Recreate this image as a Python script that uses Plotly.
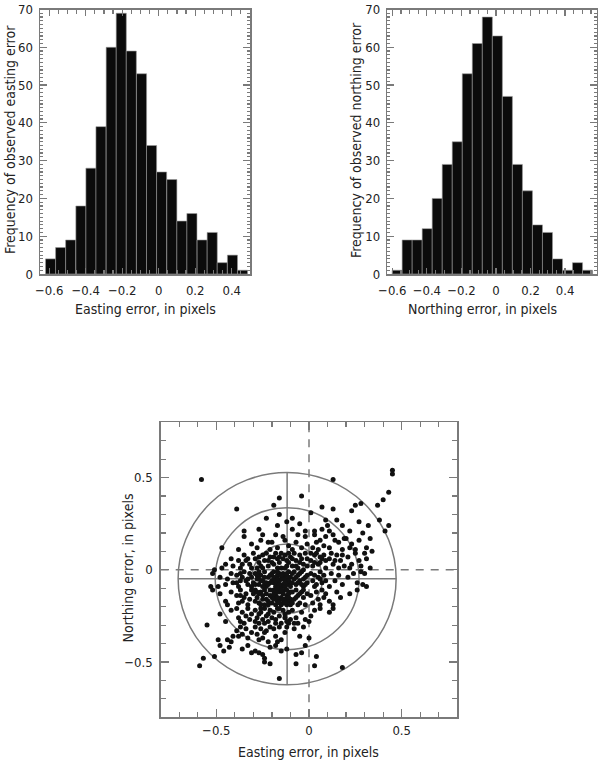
import plotly.graph_objects as go

# ---------------- data ----------------
EASTING_BIN_CENTERS = [-0.592, -0.537, -0.482, -0.426, -0.371, -0.316, -0.260, -0.205, -0.150, -0.094,
                       -0.039, 0.016, 0.072, 0.127, 0.182, 0.238, 0.293, 0.348, 0.404, 0.459]
EASTING_COUNTS = [4, 7, 9, 18, 28, 39, 60, 69, 59, 53, 34, 27, 25, 14, 16, 9, 11, 3, 5, 1]
EASTING_BIN_WIDTH = 0.0553

NORTHING_BIN_CENTERS = [-0.572, -0.514, -0.456, -0.398, -0.340, -0.282, -0.224, -0.166, -0.108, -0.050,
                        0.008, 0.066, 0.124, 0.182, 0.240, 0.298, 0.356, 0.414, 0.472, 0.530]
NORTHING_COUNTS = [1, 9, 9, 12, 20, 29, 35, 53, 61, 68, 63, 47, 29, 22, 13, 11, 4, 1, 3, 1]
NORTHING_BIN_WIDTH = 0.0582

HIST_Y_TICKS = [0, 10, 20, 30, 40, 50, 60, 70]
HIST_X_TICKS = [-0.6, -0.4, -0.2, 0, 0.2, 0.4]
SCATTER_TICKS = [-0.5, 0, 0.5]

# observed (easting, northing) errors
SCATTER_POINTS = [
    # y 0.4 .. 0.6
    (0.45, 0.54), (0.45, 0.52), (-0.58, 0.49), (0.13, 0.49), (0.43, 0.42),
    # y 0.3 .. 0.4
    (-0.39, 0.33), (-0.16, 0.39), (-0.19, 0.35), (-0.04, 0.40), (0.01, 0.31), (0.07, 0.34),
    (0.13, 0.33), (0.23, 0.32), (0.25, 0.35), (0.28, 0.36), (0.37, 0.35), (0.40, 0.38),
    # y 0.2 .. 0.3
    (-0.35, 0.21), (-0.23, 0.28), (-0.27, 0.22), (-0.16, 0.30), (-0.17, 0.24), (-0.12, 0.26),
    (-0.09, 0.28), (-0.05, 0.25), (-0.09, 0.22), (-0.02, 0.21), (0.03, 0.21), (0.09, 0.27),
    (0.10, 0.24), (0.07, 0.22), (0.15, 0.27), (0.11, 0.21), (0.18, 0.24), (0.22, 0.21),
    (0.27, 0.26), (0.38, 0.27), (0.32, 0.24), (0.43, 0.24), (0.41, 0.21),
    # y 0.1 .. 0.2
    (-0.47, 0.12), (-0.35, 0.18), (-0.38, 0.11), (-0.31, 0.14), (-0.25, 0.19), (-0.22, 0.15),
    (-0.28, 0.12), (-0.21, 0.11), (-0.26, 0.16), (-0.14, 0.18), (-0.20, 0.15), (-0.11, 0.13),
    (-0.17, 0.12), (-0.13, 0.16), (-0.18, 0.19), (-0.02, 0.18), (-0.07, 0.15), (-0.04, 0.12),
    (-0.09, 0.11), (-0.01, 0.14), (-0.06, 0.19), (0.03, 0.19), (0.06, 0.16), (0.02, 0.12),
    (0.08, 0.13), (0.05, 0.11), (0.09, 0.18), (0.04, 0.15), (0.13, 0.19), (0.16, 0.15),
    (0.11, 0.12), (0.18, 0.11), (0.14, 0.16), (0.19, 0.17), (0.20, 0.17), (0.23, 0.14),
    (0.25, 0.11), (0.22, 0.12), (0.27, 0.16), (0.29, 0.20), (0.33, 0.17), (0.31, 0.12), (0.34, 0.10),
    # y 0.0 .. 0.1
    (-0.51, 0.00), (-0.47, 0.01), (-0.42, 0.06), (-0.45, 0.03), (-0.41, 0.02),
    (-0.38, 0.05), (-0.35, 0.08), (-0.32, 0.03), (-0.37, 0.01), (-0.33, 0.06), (-0.30, 0.09),
    (-0.36, 0.03), (-0.31, 0.01), (-0.34, 0.05),
    (-0.29, 0.06), (-0.27, 0.04), (-0.25, 0.08), (-0.22, 0.02), (-0.28, 0.01), (-0.24, 0.05),
    (-0.21, 0.07), (-0.26, 0.02), (-0.23, 0.09), (-0.20, 0.04), (-0.27, 0.07), (-0.25, 0.01), (-0.22, 0.05),
    (-0.19, 0.03), (-0.17, 0.06), (-0.15, 0.01), (-0.13, 0.08), (-0.11, 0.04), (-0.18, 0.09),
    (-0.16, 0.04), (-0.12, 0.02), (-0.14, 0.06), (-0.10, 0.07), (-0.19, 0.07), (-0.17, 0.01),
    (-0.15, 0.09), (-0.12, 0.05), (-0.13, 0.01), (-0.16, 0.07), (-0.11, 0.09),
    (-0.09, 0.02), (-0.07, 0.05), (-0.05, 0.08), (-0.03, 0.03), (-0.01, 0.06), (-0.08, 0.09),
    (-0.06, 0.01), (-0.04, 0.06), (-0.02, 0.09), (-0.09, 0.06), (-0.07, 0.02), (-0.03, 0.00),
    (-0.05, 0.04), (-0.01, 0.02),
    (0.01, 0.05), (0.03, 0.08), (0.05, 0.03), (0.07, 0.06), (0.09, 0.01), (0.02, 0.02),
    (0.04, 0.09), (0.06, 0.04), (0.08, 0.08), (0.01, 0.09), (0.09, 0.05), (0.03, 0.04), (0.06, 0.07),
    (0.11, 0.06), (0.13, 0.03), (0.15, 0.08), (0.17, 0.05), (0.19, 0.02), (0.12, 0.09),
    (0.16, 0.01), (0.18, 0.08), (0.14, 0.05),
    (0.21, 0.07), (0.23, 0.03), (0.25, 0.09), (0.27, 0.05), (0.22, 0.01), (0.28, 0.02),
    (0.31, 0.06), (0.33, 0.01), (0.30, 0.09),
    # y -0.1 .. 0.0
    (-0.52, -0.02), (-0.53, -0.09),
    (-0.48, -0.04), (-0.45, -0.08), (-0.42, -0.02), (-0.49, -0.09), (-0.44, -0.05), (-0.41, -0.07),
    (-0.39, -0.03), (-0.37, -0.06), (-0.35, -0.01), (-0.33, -0.08), (-0.31, -0.04), (-0.38, -0.09),
    (-0.36, -0.04), (-0.34, -0.06), (-0.32, -0.02), (-0.30, -0.07), (-0.37, -0.02), (-0.33, -0.05),
    (-0.39, -0.07), (-0.31, -0.09),
    (-0.29, -0.02), (-0.28, -0.05), (-0.27, -0.08), (-0.26, -0.03), (-0.25, -0.06), (-0.24, -0.01),
    (-0.23, -0.09), (-0.22, -0.04), (-0.21, -0.07), (-0.20, -0.02), (-0.29, -0.08), (-0.27, -0.01),
    (-0.26, -0.06), (-0.24, -0.04), (-0.23, -0.07), (-0.21, -0.03), (-0.28, -0.03), (-0.25, -0.09),
    (-0.22, -0.08), (-0.20, -0.06), (-0.27, -0.05), (-0.24, -0.07),
    (-0.19, -0.01), (-0.18, -0.04), (-0.17, -0.07), (-0.16, -0.02), (-0.15, -0.05), (-0.14, -0.08),
    (-0.13, -0.03), (-0.12, -0.06), (-0.11, -0.01), (-0.10, -0.04), (-0.19, -0.07), (-0.18, -0.09),
    (-0.17, -0.03), (-0.16, -0.06), (-0.15, -0.09), (-0.14, -0.02), (-0.13, -0.05), (-0.12, -0.08),
    (-0.11, -0.04), (-0.10, -0.07), (-0.19, -0.04), (-0.17, -0.01), (-0.16, -0.08), (-0.14, -0.05),
    (-0.13, -0.09), (-0.12, -0.02), (-0.11, -0.06), (-0.18, -0.06), (-0.15, -0.03), (-0.13, -0.07),
    (-0.10, -0.09), (-0.17, -0.05),
    (-0.09, -0.02), (-0.08, -0.05), (-0.07, -0.08), (-0.06, -0.03), (-0.05, -0.06), (-0.04, -0.01),
    (-0.03, -0.09), (-0.02, -0.04), (-0.01, -0.07), (-0.09, -0.07), (-0.08, -0.01), (-0.06, -0.07),
    (-0.05, -0.02), (-0.03, -0.05), (-0.02, -0.08), (-0.07, -0.04), (-0.04, -0.08), (-0.01, -0.03),
    (0.01, -0.02), (0.02, -0.06), (0.03, -0.03), (0.04, -0.08), (0.05, -0.04), (0.06, -0.01),
    (0.07, -0.07), (0.08, -0.03), (0.09, -0.06), (0.03, -0.09), (0.06, -0.05),
    (0.12, -0.02), (0.14, -0.06), (0.16, -0.03), (0.18, -0.08), (0.11, -0.09),
    (0.21, -0.04), (0.24, -0.02), (0.26, -0.07), (0.28, -0.01), (0.29, -0.08),
    (0.31, -0.09), (0.30, -0.02),
    # y -0.2 .. -0.1
    (-0.52, -0.11),
    (-0.48, -0.13), (-0.45, -0.17), (-0.42, -0.12), (-0.44, -0.19),
    (-0.39, -0.14), (-0.37, -0.11), (-0.36, -0.17), (-0.34, -0.13), (-0.33, -0.19), (-0.31, -0.11),
    (-0.38, -0.18), (-0.35, -0.15), (-0.32, -0.16), (-0.30, -0.13), (-0.37, -0.14),
    (-0.29, -0.11), (-0.28, -0.15), (-0.27, -0.18), (-0.26, -0.12), (-0.25, -0.16), (-0.24, -0.19),
    (-0.23, -0.13), (-0.22, -0.17), (-0.21, -0.11), (-0.20, -0.15), (-0.29, -0.17), (-0.27, -0.13),
    (-0.26, -0.19), (-0.24, -0.11), (-0.23, -0.16), (-0.21, -0.14), (-0.28, -0.12), (-0.25, -0.14),
    (-0.22, -0.19), (-0.20, -0.18),
    (-0.19, -0.11), (-0.18, -0.14), (-0.17, -0.17), (-0.16, -0.12), (-0.15, -0.15), (-0.14, -0.18),
    (-0.13, -0.11), (-0.12, -0.14), (-0.11, -0.17), (-0.10, -0.12), (-0.19, -0.16), (-0.18, -0.19),
    (-0.17, -0.12), (-0.16, -0.16), (-0.15, -0.19), (-0.14, -0.13), (-0.13, -0.16), (-0.12, -0.19),
    (-0.11, -0.13), (-0.10, -0.16), (-0.19, -0.13), (-0.17, -0.15), (-0.16, -0.18), (-0.15, -0.11),
    (-0.14, -0.16), (-0.12, -0.11), (-0.11, -0.15), (-0.18, -0.11), (-0.13, -0.18), (-0.10, -0.19),
    (-0.17, -0.10),
    (-0.09, -0.12), (-0.08, -0.16), (-0.07, -0.11), (-0.06, -0.14), (-0.05, -0.18), (-0.04, -0.12),
    (-0.03, -0.15), (-0.02, -0.19), (-0.01, -0.13), (-0.09, -0.18), (-0.07, -0.15), (-0.05, -0.13),
    (-0.03, -0.11), (-0.06, -0.19),
    (0.01, -0.14), (0.02, -0.18), (0.04, -0.12), (0.05, -0.16), (0.06, -0.19), (0.07, -0.11),
    (0.08, -0.15), (0.09, -0.13),
    (0.11, -0.17), (0.13, -0.19), (0.15, -0.12), (0.17, -0.15),
    (0.22, -0.13), (0.26, -0.11),
    # y -0.3 .. -0.2
    (-0.55, -0.30),
    (-0.48, -0.24), (-0.45, -0.28), (-0.42, -0.22),
    (-0.39, -0.21), (-0.38, -0.26), (-0.36, -0.23), (-0.35, -0.29), (-0.33, -0.21), (-0.32, -0.27),
    (-0.31, -0.24), (-0.37, -0.28), (-0.34, -0.25),
    (-0.29, -0.22), (-0.28, -0.26), (-0.27, -0.29), (-0.26, -0.23), (-0.25, -0.27), (-0.24, -0.21),
    (-0.23, -0.25), (-0.22, -0.28), (-0.21, -0.22), (-0.20, -0.26), (-0.29, -0.28), (-0.27, -0.24),
    (-0.24, -0.29), (-0.22, -0.24), (-0.26, -0.21),
    (-0.19, -0.23), (-0.18, -0.27), (-0.17, -0.21), (-0.16, -0.25), (-0.15, -0.29), (-0.14, -0.22),
    (-0.13, -0.26), (-0.12, -0.28), (-0.11, -0.23), (-0.10, -0.27), (-0.18, -0.29), (-0.16, -0.21),
    (-0.13, -0.24), (-0.11, -0.29),
    (-0.09, -0.22), (-0.07, -0.26), (-0.06, -0.29), (-0.04, -0.23), (-0.02, -0.27), (0.00, -0.28),
    (-0.08, -0.29),
    (0.03, -0.22), (0.06, -0.21), (0.01, -0.25),
    (0.13, -0.21), (0.11, -0.23),
    # y -0.4 .. -0.3
    (-0.49, -0.38), (-0.44, -0.38), (-0.42, -0.39), (-0.41, -0.36),
    (-0.39, -0.33), (-0.37, -0.31), (-0.36, -0.35), (-0.34, -0.32), (-0.33, -0.37), (-0.31, -0.34),
    (-0.38, -0.36),
    (-0.29, -0.31), (-0.28, -0.35), (-0.26, -0.32), (-0.25, -0.37), (-0.23, -0.33), (-0.22, -0.39),
    (-0.21, -0.31), (-0.27, -0.38), (-0.24, -0.34),
    (-0.19, -0.32), (-0.18, -0.36), (-0.16, -0.31), (-0.15, -0.38), (-0.13, -0.34), (-0.12, -0.31),
    (-0.17, -0.39),
    (-0.08, -0.32), (-0.05, -0.36), (-0.03, -0.31),
    (0.00, -0.37),
    # y -0.5 .. -0.4
    (-0.57, -0.48), (-0.51, -0.47),
    (-0.48, -0.41), (-0.46, -0.44), (-0.43, -0.42),
    (-0.36, -0.43), (-0.33, -0.41), (-0.31, -0.45),
    (-0.29, -0.44), (-0.27, -0.45), (-0.25, -0.46), (-0.24, -0.48), (-0.21, -0.42),
    (-0.18, -0.41), (-0.15, -0.44), (-0.12, -0.43),
    (-0.07, -0.46), (-0.04, -0.45), (-0.02, -0.41),
    (0.04, -0.47),
    # y -0.6 .. -0.5
    (-0.59, -0.52), (-0.24, -0.50), (-0.21, -0.51), (-0.16, -0.59), (-0.07, -0.51),
    (0.03, -0.52), (0.18, -0.53),
]

# error-circle overlay (centre and radii)
CIRCLE_CENTER = (-0.118, -0.048)
CIRCLE_RADII_X = [0.19, 0.388, 0.588]
CIRCLE_RADII_Y = [0.188, 0.385, 0.576]

easting = [p[0] for p in SCATTER_POINTS]
northing = [p[1] for p in SCATTER_POINTS]

# ---------------- figure ----------------
W, H = 602, 762
FONT = "Liberation Sans Narrow, DejaVu Sans Condensed, Arial Narrow, sans-serif"
AXC = "#7a7a7a"


def px(x):
    return x / W


def py(y):
    return 1 - y / H


fig = go.Figure()

fig.add_trace(go.Bar(x=EASTING_BIN_CENTERS, y=EASTING_COUNTS, width=EASTING_BIN_WIDTH,
                     marker=dict(color="#0b0b0b", line=dict(color="#9a9a9a", width=0.6)),
                     xaxis="x", yaxis="y", showlegend=False))
fig.add_trace(go.Bar(x=NORTHING_BIN_CENTERS, y=NORTHING_COUNTS, width=NORTHING_BIN_WIDTH,
                     marker=dict(color="#0b0b0b", line=dict(color="#9a9a9a", width=0.6)),
                     xaxis="x2", yaxis="y2", showlegend=False))
fig.add_trace(go.Scatter(x=easting, y=northing, mode="markers",
                         marker=dict(color="#111111", size=5, line=dict(width=0)),
                         xaxis="x3", yaxis="y3", showlegend=False))


def axis_common(**kw):
    d = dict(showline=True, linecolor=AXC, linewidth=1.5, mirror="allticks",
             ticks="inside", tickcolor=AXC, tickwidth=1.2,
             showgrid=False, zeroline=False, automargin=False, fixedrange=True,
             tickfont=dict(family=FONT, size=13, color="#222"))
    d.update(kw)
    return d


hist_y_common = dict(range=[0, 70], tickvals=HIST_Y_TICKS, ticklen=7,
                     minor=dict(dtick=1, ticks="inside", ticklen=3, tickcolor=AXC),
                     ticklabelstandoff=3)

fig.update_layout(
    width=W, height=H, autosize=False,
    margin=dict(l=0, r=0, t=0, b=0, autoexpand=False),
    paper_bgcolor="white", plot_bgcolor="white",
    bargap=0, hovermode=False,
    xaxis=axis_common(domain=[px(40), px(250)], range=[-0.65, 0.5], anchor="y",
                      tickvals=HIST_X_TICKS, ticklen=6,
                      minor=dict(dtick=0.05, tick0=0, ticks="inside", ticklen=4, tickcolor=AXC),
                      ticklabelstandoff=4),
    yaxis=axis_common(domain=[py(274), py(9.5)], anchor="x", **hist_y_common),
    xaxis2=axis_common(domain=[px(387.3), px(596.7)], range=[-0.629, 0.583], anchor="y2",
                       tickvals=HIST_X_TICKS, ticklen=6,
                       minor=dict(dtick=0.05, tick0=0, ticks="inside", ticklen=4, tickcolor=AXC),
                       ticklabelstandoff=4),
    yaxis2=axis_common(domain=[py(274), py(9.5)], anchor="x2", **hist_y_common),
    xaxis3=axis_common(domain=[px(160.7), px(457.3)], range=[-0.8, 0.8], anchor="y3",
                       tickvals=SCATTER_TICKS, ticklen=8,
                       minor=dict(dtick=0.1, tick0=0, ticks="inside", ticklen=5, tickcolor=AXC),
                       ticklabelstandoff=1),
    yaxis3=axis_common(domain=[py(717.3), py(422.3)], range=[-0.8, 0.8], anchor="x3",
                       tickvals=SCATTER_TICKS, ticklen=8,
                       minor=dict(dtick=0.1, tick0=0, ticks="inside", ticklen=5, tickcolor=AXC),
                       ticklabelstandoff=4),
)

shapes = []
cx, cy = CIRCLE_CENTER
for rx, ry in zip(CIRCLE_RADII_X, CIRCLE_RADII_Y):
    shapes.append(dict(type="circle", xref="x3", yref="y3", x0=cx - rx, x1=cx + rx,
                       y0=cy - ry, y1=cy + ry, line=dict(color=AXC, width=1.5), layer="below"))
rx_out, ry_out = CIRCLE_RADII_X[-1], CIRCLE_RADII_Y[-1]
shapes.append(dict(type="line", xref="x3", yref="y3", x0=cx, x1=cx, y0=cy - ry_out, y1=cy + ry_out,
                   line=dict(color=AXC, width=1.5), layer="below"))
shapes.append(dict(type="line", xref="x3", yref="y3", x0=cx - rx_out, x1=cx + rx_out, y0=cy, y1=cy,
                   line=dict(color=AXC, width=1.5), layer="below"))
shapes.append(dict(type="line", xref="x3", yref="y3", x0=0, x1=0, y0=-0.8, y1=0.8,
                   line=dict(color=AXC, width=1.5, dash="8px,7px"), layer="below"))
shapes.append(dict(type="line", xref="x3", yref="y3", x0=-0.8, x1=0.8, y0=0, y1=0,
                   line=dict(color=AXC, width=1.5, dash="8px,7px"), layer="below"))
fig.update_layout(shapes=shapes)

TITLE_FONT = dict(family=FONT, size=14, color="#222")
annos = [
    dict(text="Frequency of observed easting error", x=px(10), y=py(140), textangle=-90),
    dict(text="Easting error, in pixels", x=px(145), y=py(309), textangle=0),
    dict(text="Frequency of observed northing error", x=px(356), y=py(140), textangle=-90),
    dict(text="Northing error, in pixels", x=px(482), y=py(309), textangle=0),
    dict(text="Northing error, in pixels", x=px(127.5), y=py(568), textangle=-90),
    dict(text="Easting error, in pixels", x=px(308), y=py(752), textangle=0),
]
for a in annos:
    a.update(xref="paper", yref="paper", showarrow=False, xanchor="center", yanchor="middle",
             font=TITLE_FONT)
fig.update_layout(annotations=annos)

fig.write_html("out.html", config={"displayModeBar": False, "staticPlot": True},
               post_script="document.body.style.margin='0';document.body.style.overflow='hidden';")
